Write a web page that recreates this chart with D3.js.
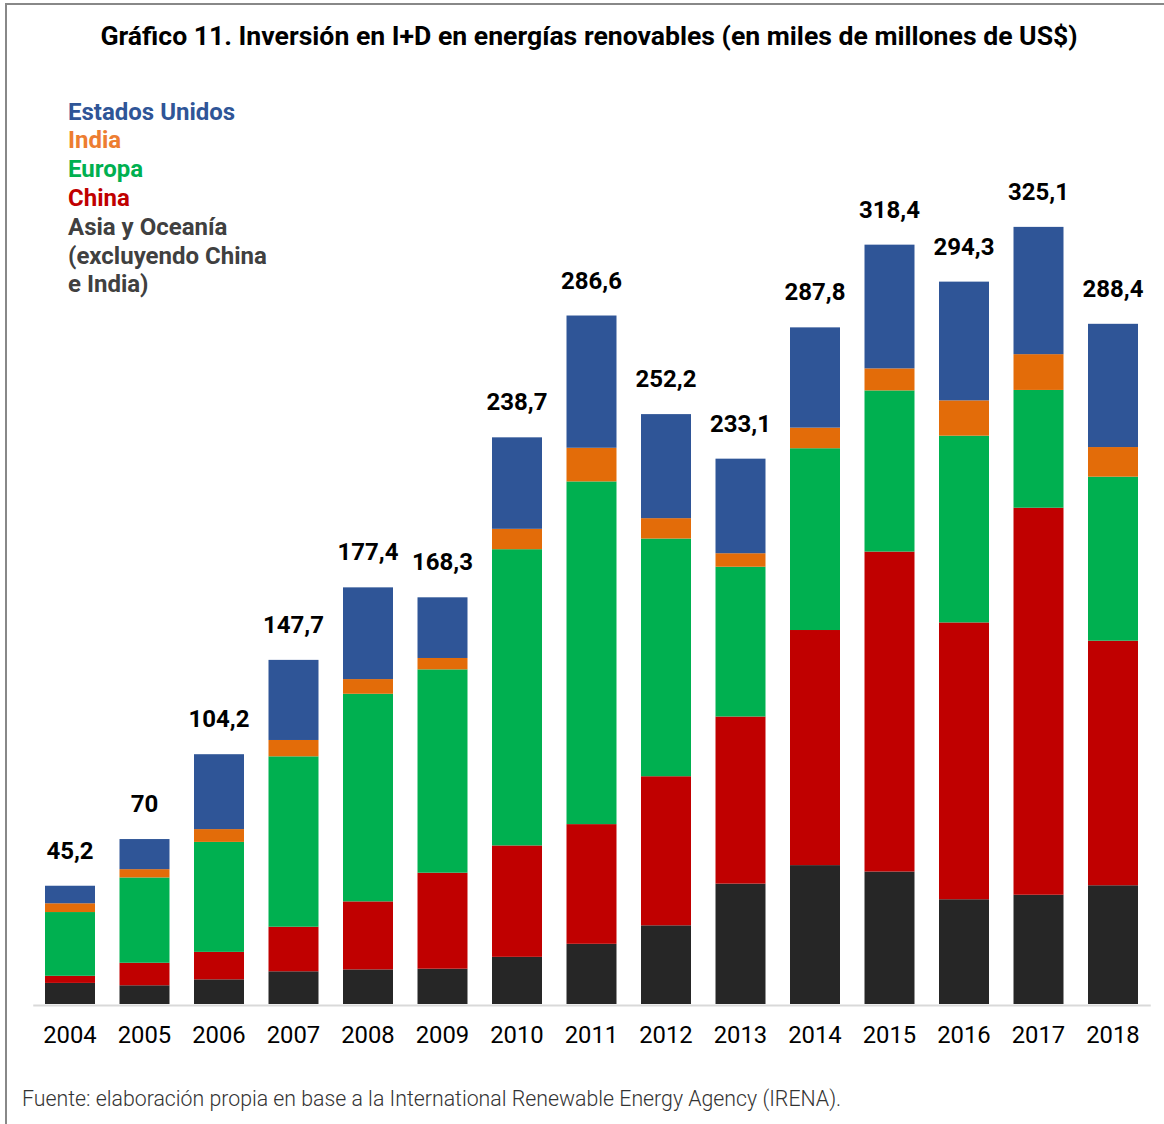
<!DOCTYPE html>
<html lang="es">
<head>
  <meta charset="UTF-8">
  <title>Gráfico 11 - Inversión en I+D en energías renovables</title>
  <script src="https://d3js.org/d3.v7.min.js"></script>
  <style>
    body { margin:0; background:#fff; }
    svg { display:block; font-family: Roboto, "Noto Sans", sans-serif; }
  </style>
</head>
<body>
  <svg width="1164" height="1124"></svg>
  <script>
    // años y totales rotulados
    const years = ['2004', '2005', '2006', '2007', '2008', '2009', '2010', '2011', '2012', '2013', '2014', '2015', '2016', '2017', '2018']
    const totals = ['45,2', '70', '104,2', '147,7', '177,4', '168,3', '238,7', '286,6', '252,2', '233,1', '287,8', '318,4', '294,3', '325,1', '288,4']

    // series (miles de millones de US$)
    const asia = [8.9, 7.9, 10.4, 13.8, 14.6, 14.9, 19.9, 25.4, 33.2, 50.8, 58.6, 55.9, 44.2, 46.1, 50.1]
    const china = [3.0, 9.5, 11.6, 18.8, 28.7, 40.5, 47.0, 50.5, 62.9, 70.5, 99.2, 135.0, 116.8, 163.3, 103.2]
    const europa = [26.9, 36.0, 46.4, 71.9, 87.6, 85.8, 125.0, 144.6, 100.3, 63.2, 76.7, 68.0, 78.8, 49.7, 69.2]
    const india = [3.7, 3.5, 5.4, 6.9, 6.2, 4.8, 8.6, 14.2, 8.6, 5.7, 8.7, 9.3, 14.9, 15.1, 12.5]
    const eeuu = [7.4, 12.7, 31.6, 33.8, 38.7, 25.6, 38.6, 55.8, 43.9, 39.9, 42.3, 52.2, 50.1, 53.7, 52.0]

    const seriesKeys = ['asia', 'china', 'europa', 'india', 'eeuu']
    const seriesColors = { asia: '#262626', china: '#C00000', europa: '#00B050', india: '#E36C09', eeuu: '#2F5597' }

    const legendItems = [
      { text: 'Estados Unidos', color: '#2F5597' },
      { text: 'India', color: '#ED7D31' },
      { text: 'Europa', color: '#00B050' },
      { text: 'China', color: '#C00000' },
      { text: 'Asia y Oceanía', color: '#404040' },
      { text: '(excluyendo China', color: '#404040' },
      { text: 'e India)', color: '#404040' }
    ]

    const svg = d3.select('svg')
    const baseY = 1004

    const table = years.map((y, i) => ({ year: y, asia: asia[i], china: china[i], europa: europa[i], india: india[i], eeuu: eeuu[i] }))
    const stacked = d3.stack().keys(seriesKeys)(table)

    const xScale = d3.scaleBand()
      .domain(years)
      .range([32.75, 1150.25])
      .paddingInner(0.329)
      .paddingOuter(0.1645)

    const yScale = d3.scaleLinear()
      .domain([0, 350])
      .range([baseY, baseY - 350 * 2.37])

    // marco
    svg.append('path')
      .attr('d', 'M6,1124 V4 H1164')
      .attr('fill', 'none')
      .attr('stroke', '#888')
      .attr('stroke-width', 2)

    // título
    svg.append('text')
      .attr('x', 589)
      .attr('y', 45)
      .attr('text-anchor', 'middle')
      .attr('font-size', 26.6)
      .attr('font-weight', 700)
      .attr('fill', '#000')
      .text('Gráfico 11. Inversión en I+D en energías renovables (en miles de millones de US$)')

    // barras
    svg.append('g')
      .selectAll('g')
      .data(stacked)
      .join('g')
      .attr('fill', d => seriesColors[d.key])
      .selectAll('rect')
      .data(d => d)
      .join('rect')
      .attr('x', d => xScale(d.data.year))
      .attr('width', xScale.bandwidth())
      .attr('y', d => yScale(d[1]))
      .attr('height', d => yScale(d[0]) - yScale(d[1]))

    // eje x
    const xAxis = d3.axisBottom(xScale).tickSize(0).tickPadding(21)
    const gx = svg.append('g')
      .attr('transform', 'translate(0,' + (baseY + 1) + ')')
      .call(xAxis)
    gx.select('.domain').attr('stroke', '#d9d9d9').attr('stroke-width', 2)
    gx.selectAll('text')
      .attr('font-size', 23.8)
      .attr('font-family', 'Roboto, sans-serif')
      .attr('fill', '#000')

    // totales
    const topLayer = stacked[stacked.length - 1]
    svg.append('g')
      .selectAll('text')
      .data(topLayer)
      .join('text')
      .attr('x', d => xScale(d.data.year) + xScale.bandwidth() / 2)
      .attr('y', d => yScale(d[1]) - 27)
      .attr('text-anchor', 'middle')
      .attr('font-size', 24)
      .attr('font-weight', 700)
      .attr('fill', '#000')
      .text((d, i) => totals[i])

    // leyenda
    svg.append('g')
      .selectAll('text')
      .data(legendItems)
      .join('text')
      .attr('x', 68)
      .attr('y', (d, i) => 119.5 + i * 28.8)
      .attr('font-size', 24)
      .attr('font-weight', 700)
      .attr('fill', d => d.color)
      .text(d => d.text)

    // fuente
    svg.append('text')
      .attr('x', 22)
      .attr('y', 1106)
      .attr('font-size', 21.3)
      .attr('font-weight', 300)
      .attr('fill', '#333')
      .text('Fuente: elaboración propia en base a la International Renewable Energy Agency (IRENA).')
  </script>
</body>
</html>
